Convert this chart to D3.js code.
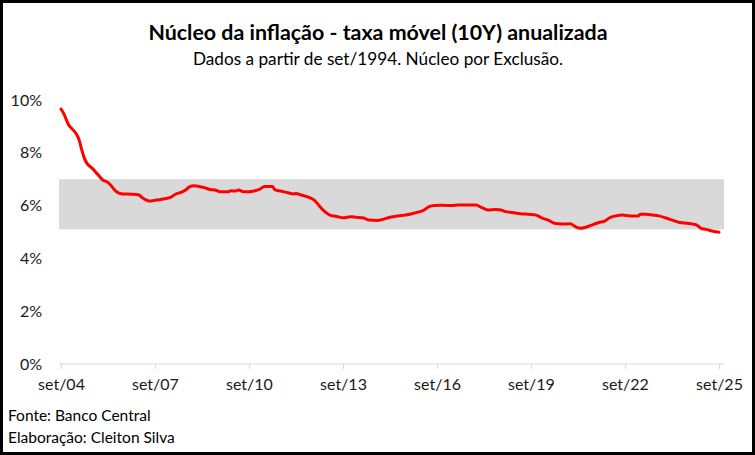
<!DOCTYPE html>
<html>
<head>
<meta charset="utf-8">
<script src="https://cdn.jsdelivr.net/npm/d3@7"></script>
<style>
    body { margin: 0; background: #fff; }
    text { font-family: Lato, "Open Sans", sans-serif; }
</style>
</head>
<body>
<div id="chart"></div>
<script>
// months (yyyy-mm), with the 10Y annualised core rate in %
const months = [
    "2004-09","2004-10","2004-12","2005-01","2005-03","2005-04","2005-05","2005-06","2005-07","2005-09",
    "2005-11","2006-01","2006-03","2006-04","2006-06","2006-08","2006-09","2006-12","2007-03","2007-04",
    "2007-06","2007-07","2007-09","2007-12","2008-03","2008-05","2008-07","2008-09","2008-10","2008-12",
    "2009-02","2009-04","2009-06","2009-08","2009-10","2010-01","2010-02","2010-04","2010-05","2010-07",
    "2010-09","2010-11","2011-01","2011-03","2011-06","2011-07","2011-09","2011-12","2012-02","2012-03",
    "2012-05","2012-08","2012-10","2012-12","2013-02","2013-04","2013-07","2013-09","2013-12","2014-02",
    "2014-05","2014-07","2014-10","2014-12","2015-03","2015-06","2015-09","2015-11","2016-02","2016-04",
    "2016-06","2016-08","2016-11","2017-03","2017-05","2017-08","2017-12","2018-02","2018-05","2018-07",
    "2018-09","2018-11","2019-03","2019-05","2019-08","2019-11","2020-01","2020-04","2020-06","2020-09",
    "2020-12","2021-02","2021-04","2021-06","2021-09","2021-11","2022-01","2022-03","2022-06","2022-08",
    "2022-11","2023-02","2023-03","2023-05","2023-08","2023-10","2024-01","2024-04","2024-06","2024-09",
    "2024-11","2025-01","2025-02","2025-04","2025-06","2025-09"
];
const coreRate = [
    9.66, 9.50, 9.05, 8.93, 8.70, 8.48, 8.11, 7.79, 7.60, 7.41,
    7.19, 6.97, 6.88, 6.78, 6.55, 6.45, 6.44, 6.43, 6.40, 6.31,
    6.20, 6.17, 6.20, 6.25, 6.31, 6.44, 6.50, 6.61, 6.70, 6.75,
    6.72, 6.68, 6.61, 6.59, 6.52, 6.52, 6.56, 6.55, 6.59, 6.52,
    6.52, 6.55, 6.61, 6.72, 6.72, 6.60, 6.55, 6.49, 6.44, 6.46,
    6.40, 6.31, 6.21, 5.98, 5.77, 5.64, 5.58, 5.54, 5.58, 5.56,
    5.53, 5.45, 5.44, 5.47, 5.56, 5.61, 5.64, 5.68, 5.76, 5.83,
    5.96, 6.00, 6.01, 6.00, 6.02, 6.02, 6.02, 5.93, 5.83, 5.85,
    5.84, 5.78, 5.72, 5.69, 5.67, 5.64, 5.54, 5.43, 5.33, 5.30,
    5.31, 5.20, 5.14, 5.18, 5.29, 5.36, 5.40, 5.53, 5.62, 5.64,
    5.61, 5.61, 5.67, 5.67, 5.64, 5.61, 5.52, 5.42, 5.36, 5.33,
    5.30, 5.23, 5.14, 5.10, 5.05, 4.99
];
// shaded reference band (%)
const bandLow = 5.1;
const bandHigh = 7.0;

const yTicks = [0, 2, 4, 6, 8, 10];
const xTickMonths = ["2004-09","2007-09","2010-09","2013-09","2016-09","2019-09","2022-09","2025-09"];

const title = "Núcleo da inflação - taxa móvel (10Y) anualizada";
const subtitle = "Dados a partir de set/1994. Núcleo por Exclusão.";
const footer = ["Fonte: Banco Central", "Elaboração: Cleiton Silva"];

const W = 755, H = 455;
const parseMonth = d3.timeParse("%Y-%m");
const ptBR = ["jan","fev","mar","abr","mai","jun","jul","ago","set","out","nov","dez"];
const fmtTick = d => ptBR[d.getMonth()] + "/" + d3.timeFormat("%y")(d);

const data = months.map((m, i) => ({ date: parseMonth(m), value: coreRate[i] }));

const svg = d3.select("#chart").append("svg")
    .attr("width", W)
    .attr("height", H);

// outer frame
svg.append("rect")
    .attr("x", 1.5).attr("y", 1.5)
    .attr("width", W - 3).attr("height", H - 3)
    .attr("fill", "#fff")
    .attr("stroke", "#000")
    .attr("stroke-width", 3);

// plot area
const plot = { left: 59, right: 724, top: 100, bottom: 364 };

const x = d3.scaleTime()
    .domain(d3.extent(data, d => d.date))
    .range([61, 719]);

const y = d3.scaleLinear()
    .domain([0, 10])
    .range([plot.bottom, plot.top]);

// band
svg.append("rect")
    .attr("x", plot.left)
    .attr("width", plot.right - plot.left)
    .attr("y", y(bandHigh))
    .attr("height", y(bandLow) - y(bandHigh))
    .attr("fill", "#d9d9d9");

// y axis labels only
const yAxis = svg.append("g")
    .attr("transform", `translate(${plot.left - 17},0)`)
    .call(d3.axisLeft(y).tickValues(yTicks).tickSize(0).tickPadding(0).tickFormat(d => d + "%"));
yAxis.select(".domain").remove();
yAxis.selectAll("text")
    .attr("fill", "#1a1a1a")
    .style("font-size", "16px");

// x axis
const xAxis = svg.append("g")
    .attr("transform", `translate(0,${plot.bottom})`)
    .call(d3.axisBottom(x)
        .tickValues(xTickMonths.map(parseMonth))
        .tickSize(5)
        .tickPadding(10)
        .tickFormat(fmtTick));
xAxis.select(".domain")
    .attr("d", `M${plot.left},0H${plot.right}`)
    .attr("stroke", "#d9d9d9");
xAxis.selectAll(".tick line").attr("stroke", "#d9d9d9");
xAxis.selectAll("text")
    .attr("fill", "#1a1a1a")
    .style("font-size", "16px");

// line
svg.append("path")
    .datum(data)
    .attr("fill", "none")
    .attr("stroke", "#ff0000")
    .attr("stroke-width", 3)
    .attr("stroke-linejoin", "round")
    .attr("stroke-linecap", "round")
    .attr("d", d3.line().x(d => x(d.date)).y(d => y(d.value)).curve(d3.curveMonotoneX));

// titles
svg.append("text")
    .attr("x", 378).attr("y", 40)
    .attr("text-anchor", "middle")
    .style("font-size", "21.4px")
    .style("font-weight", "bold")
    .text(title);

svg.append("text")
    .attr("x", 378).attr("y", 65)
    .attr("text-anchor", "middle")
    .style("font-size", "17.2px")
    .text(subtitle);

// footer
svg.selectAll(".footer")
    .data(footer)
    .enter().append("text")
    .attr("class", "footer")
    .attr("x", 8)
    .attr("y", (d, i) => 421 + i * 22)
    .style("font-size", "15.5px")
    .text(d => d);
</script>
</body>
</html>
